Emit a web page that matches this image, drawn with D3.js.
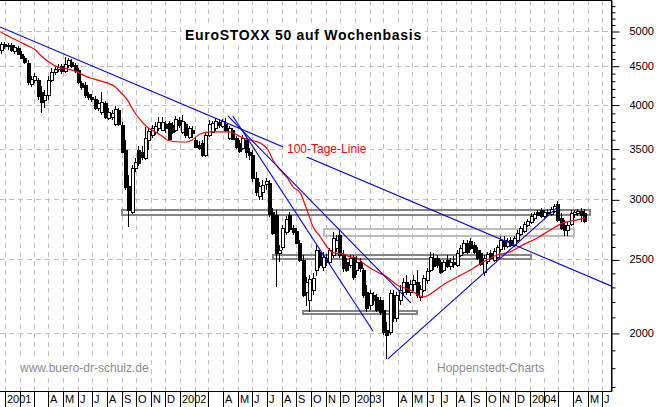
<!DOCTYPE html>
<html>
<head>
<meta charset="utf-8">
<script src="https://cdn.jsdelivr.net/npm/d3@7"></script>
<style>
  body { margin: 0; background: #fff; }
  svg { display: block; font-family: Arial, "Liberation Sans", sans-serif; }
</style>
</head>
<body>
<svg id="chart" width="659" height="407"></svg>
<script>
// Weekly candles, the first one is the week starting Monday 2000-12-25
const firstWeek = new Date(2000, 11, 25);

const opens = [
    4720,4805,4780,4790,4705,4750,4665,4605,4540,4260,
    4310,4310,4155,4055,4120,4310,4415,4455,4495,4430,
    4510,4550,4510,4440,4270,4245,4130,4095,4070,3960,
    3910,4020,3840,3850,3770,3935,3760,3485,3125,2890,
    3300,3485,3465,3400,3590,3650,3680,3725,3705,3770,
    3785,3760,3705,3815,3680,3770,3625,3705,3590,3540,
    3560,3435,3650,3680,3725,3795,3750,3770,3615,3705,
    3615,3560,3505,3590,3465,3435,3200,3030,3070,3145,
    3155,2890,2860,2550,2595,2720,2860,2750,2725,2630,
    2495,2265,2210,2280,2420,2560,2445,2510,2480,2535,
    2590,2695,2535,2480,2460,2510,2420,2480,2420,2265,
    2180,2245,2230,2210,2145,2020,2005,2245,2095,2210,
    2265,2335,2265,2320,2335,2230,2280,2350,2420,2510,
    2510,2480,2420,2495,2450,2480,2460,2535,2560,2630,
    2645,2615,2575,2550,2405,2490,2550,2495,2520,2580,
    2650,2605,2650,2615,2650,2700,2725,2775,2800,2835,
    2890,2905,2855,2880,2870,2895,2960,2835,2775,2735,
    2785,2870,2880,2895,2880
];
const highs = [
    4835,4835,4820,4820,4790,4780,4705,4635,4580,4360,
    4400,4335,4230,4180,4360,4470,4495,4525,4525,4620,
    4605,4595,4540,4470,4295,4285,4155,4130,4105,4055,
    4155,4045,3960,3935,3985,3960,3795,3590,3230,3330,
    3400,3530,3530,3735,3725,3760,3795,3850,3850,3805,
    3805,3795,3865,3850,3875,3795,3750,3750,3625,3580,
    3590,3680,3815,3805,3840,3830,3830,3840,3750,3725,
    3635,3590,3650,3615,3505,3485,3260,3165,3180,3200,
    3180,2925,2905,2615,2775,2855,2890,2775,2750,2650,
    2535,2370,2385,2400,2615,2575,2560,2540,2590,2720,
    2695,2735,2575,2510,2535,2535,2525,2510,2435,2315,
    2280,2265,2250,2230,2210,2070,2280,2280,2265,2315,
    2365,2385,2350,2385,2420,2315,2385,2435,2560,2550,
    2535,2495,2495,2535,2510,2525,2575,2615,2650,2650,
    2670,2635,2595,2575,2535,2560,2575,2590,2615,2685,
    2685,2670,2675,2685,2735,2770,2800,2825,2880,2890,
    2905,2925,2905,2915,2930,2960,2985,2880,2820,2800,
    2905,2905,2915,2925,2915
];
const lows = [
    4665,4735,4720,4690,4665,4650,4595,4525,4245,4220,
    4270,4055,3895,3960,4055,4285,4375,4415,4390,4400,
    4470,4470,4400,4260,4180,4080,4055,4030,3935,3920,
    3875,3830,3815,3815,3750,3750,3455,3085,2760,2870,
    3260,3320,3380,3380,3485,3615,3650,3690,3690,3670,
    3580,3660,3680,3725,3660,3615,3605,3615,3505,3485,
    3410,3410,3625,3670,3690,3725,3725,3680,3590,3590,
    3495,3455,3485,3400,3380,3165,3030,2995,2995,3085,
    2845,2695,2300,2480,2575,2695,2720,2695,2620,2480,
    2230,2170,2130,2245,2375,2435,2415,2450,2465,2510,
    2560,2510,2405,2405,2435,2350,2385,2405,2225,2130,
    2145,2180,2130,2115,1990,1850,1990,2070,2070,2180,
    2240,2245,2240,2270,2225,2205,2265,2320,2405,2420,
    2435,2390,2405,2435,2420,2435,2445,2520,2540,2540,
    2575,2540,2495,2450,2375,2465,2495,2480,2505,2560,
    2575,2590,2595,2595,2635,2685,2710,2760,2785,2810,
    2855,2835,2835,2855,2855,2880,2800,2735,2685,2685,
    2770,2835,2855,2800,2795
];
const closes = [
    4805,4780,4790,4720,4765,4665,4605,4550,4285,4320,
    4360,4105,4030,4120,4310,4415,4455,4485,4430,4525,
    4580,4495,4440,4285,4220,4120,4095,4070,3960,4020,
    4030,3850,3910,3900,3945,3770,3465,3115,2905,3300,
    3360,3350,3410,3615,3690,3725,3750,3795,3795,3725,
    3605,3680,3830,3760,3805,3650,3725,3670,3515,3505,
    3435,3650,3770,3785,3805,3760,3805,3705,3725,3605,
    3515,3475,3615,3465,3435,3200,3070,3125,3135,3175,
    2870,2710,2550,2575,2750,2825,2745,2720,2630,2495,
    2245,2335,2355,2365,2575,2460,2520,2480,2575,2670,
    2650,2535,2435,2420,2510,2370,2480,2435,2245,2160,
    2260,2210,2145,2130,2005,1990,2260,2095,2245,2280,
    2335,2265,2320,2350,2245,2285,2365,2415,2520,2450,
    2460,2405,2480,2450,2480,2465,2550,2590,2630,2560,
    2590,2560,2510,2465,2510,2540,2510,2565,2595,2650,
    2605,2645,2615,2670,2710,2750,2785,2810,2855,2870,
    2860,2855,2890,2890,2915,2940,2820,2750,2735,2775,
    2880,2890,2895,2860,2810
];

// 100-Tage-Linie
const maDates = [
    "2000-12-22","2001-01-11","2001-02-01","2001-02-22","2001-03-05","2001-03-15",
    "2001-04-05","2001-04-20","2001-05-10","2001-05-31","2001-06-21","2001-07-04",
    "2001-07-18","2001-08-02","2001-08-19","2001-08-29","2001-09-13","2001-09-25",
    "2001-10-10","2001-10-24","2001-11-14","2001-11-27","2001-12-05","2002-01-01",
    "2002-01-16","2002-01-26","2002-02-12","2002-03-05","2002-04-16","2002-04-30",
    "2002-05-13","2002-05-27","2002-06-17","2002-07-04","2002-07-14","2002-07-29",
    "2002-08-13","2002-08-25","2002-09-09","2002-09-23","2002-10-06","2002-10-21",
    "2002-11-04","2002-11-17","2002-12-08","2002-12-22","2003-01-06","2003-01-18",
    "2003-02-02","2003-02-17","2003-03-09","2003-03-30","2003-04-26","2003-05-24",
    "2003-06-14","2003-07-04","2003-08-03","2003-08-30","2003-09-26","2003-10-25",
    "2003-11-21","2003-12-18","2004-01-17","2004-02-13","2004-03-11","2004-04-09",
    "2004-04-26"
];
const maValues = [
    4985,4910,4836,4763,4720,4649,
    4538,4484,4457,4416,4350,4324,
    4297,4271,4219,4156,4056,3934,
    3817,3737,3670,3625,3592,3570,
    3570,3592,3658,3681,3681,3648,
    3614,3592,3560,3485,3381,3280,
    3201,3115,3059,2905,2759,2677,
    2597,2550,2542,2519,2511,2473,
    2436,2407,2370,2314,2279,2231,
    2265,2314,2370,2421,2481,2534,
    2558,2613,2668,2734,2793,2818,
    2836
];

// trend lines: start date, start value, end date, end value
const trendLines = [
    ["2000-12-21", 5061, "2004-06-19", 2307],
    ["2002-04-11", 3864, "2003-04-28", 2191],
    ["2002-04-21", 3864, "2003-02-08", 2012],
    ["2003-03-11", 1849, "2004-02-29", 2932]
];

// horizontal zones: from, to, low, high
const zones = [
    ["2001-09-01", "2004-05-06", 2862, 2905],
    ["2002-10-29", "2004-04-03", 2688, 2738],
    ["2002-07-14", "2004-01-04", 2500, 2534],
    ["2002-09-14", "2003-05-11", 2120, 2140]
];

const yTicks = [2000, 2500, 3000, 3500, 4000, 4500, 5000];
const monthLetters = ["J", "F", "M", "A", "M", "J", "J", "A", "S", "O", "N", "D"];

const parse = d3.timeParse("%Y-%m-%d");

const svg = d3.select("#chart");
const plotRight = 611, plotBottom = 391;

const x = d3.scaleTime()
    .domain([new Date(2000, 11, 21), new Date(2004, 5, 19)])
    .range([0, plotRight]);
const y = d3.scaleLog()
    .domain([1677, 5493])
    .range([plotBottom, 0]);

svg.append("rect").attr("width", 659).attr("height", 407).attr("fill", "#fff");

svg.append("defs").append("clipPath").attr("id", "plotClip")
    .append("rect").attr("x", 0).attr("y", 0).attr("width", plotRight).attr("height", plotBottom);

const plot = svg.append("g").attr("clip-path", "url(#plotClip)");

// grid
const months = d3.timeMonth.range(new Date(2001, 0, 1), new Date(2004, 6, 1));
plot.append("g").selectAll("line")
    .data(months)
    .enter().append("line")
    .attr("x1", d => Math.round(x(d)) + 0.5)
    .attr("x2", d => Math.round(x(d)) + 0.5)
    .attr("y1", 0).attr("y2", plotBottom)
    .attr("stroke", "#c0c0c0")
    .attr("stroke-dasharray", "5,4");

plot.append("g").selectAll("line")
    .data(yTicks)
    .enter().append("line")
    .attr("x1", 0).attr("x2", plotRight)
    .attr("y1", d => Math.round(y(d)) + 0.5)
    .attr("y2", d => Math.round(y(d)) + 0.5)
    .attr("stroke", "#c0c0c0")
    .attr("stroke-dasharray", "5,4");

// zones
const zoneColor = ["#848484", "#bcbcbc", "#848484", "#848484"];
plot.append("g").selectAll("rect")
    .data(zones)
    .enter().append("rect")
    .attr("x", d => Math.round(x(parse(d[0]))))
    .attr("y", d => Math.round(y(d[3])))
    .attr("width", d => Math.round(x(parse(d[1]))) - Math.round(x(parse(d[0]))))
    .attr("height", d => Math.max(3, Math.round(y(d[2])) - Math.round(y(d[3]))))
    .attr("fill", "none")
    .attr("stroke", (d, i) => zoneColor[i])
    .attr("stroke-width", 2)
    .attr("shape-rendering", "crispEdges");

// candles
const candles = opens.map((o, i) => ({
    date: d3.timeMonday.offset(firstWeek, i),
    open: o, high: highs[i], low: lows[i], close: closes[i]
}));

const cg = plot.append("g").selectAll("g")
    .data(candles)
    .enter().append("g");

cg.append("line")
    .attr("x1", d => Math.round(x(d.date)) - 0.5)
    .attr("x2", d => Math.round(x(d.date)) - 0.5)
    .attr("y1", d => Math.round(y(d.high)))
    .attr("y2", d => Math.round(y(d.low)))
    .attr("stroke", "#000")
    .attr("shape-rendering", "crispEdges");

cg.append("rect")
    .attr("x", d => Math.round(x(d.date)) - 1.5)
    .attr("y", d => Math.round(y(Math.max(d.open, d.close))) + 0.5)
    .attr("width", 3)
    .attr("height", d => Math.max(1, Math.round(y(Math.min(d.open, d.close))) - Math.round(y(Math.max(d.open, d.close)))))
    .attr("fill", d => d.close < d.open ? "#000" : "#fff")
    .attr("stroke", "#000")
    .attr("shape-rendering", "crispEdges");

// moving average
const line = d3.line()
    .x(d => x(d[0]))
    .y(d => y(d[1]))
    .curve(d3.curveMonotoneX);

plot.append("path")
    .datum(maDates.map((d, i) => [parse(d), maValues[i]]))
    .attr("d", line)
    .attr("fill", "none")
    .attr("stroke", "#ff0000")
    .attr("stroke-width", 1.2);

// trend lines
plot.append("g").selectAll("line")
    .data(trendLines)
    .enter().append("line")
    .attr("x1", d => x(parse(d[0])))
    .attr("y1", d => y(d[1]))
    .attr("x2", d => x(parse(d[2])))
    .attr("y2", d => y(d[3]))
    .attr("stroke", "#0000ff")
    .attr("stroke-width", 1.1);

// labels with white background
function boxedText(g, txt, tx, ty, opts) {
    const t = g.append("text")
        .attr("x", tx).attr("y", ty)
        .attr("fill", opts.color)
        .style("font-size", opts.size + "px")
        .style("font-weight", opts.bold ? "bold" : "normal")
        .style("letter-spacing", (opts.spacing || 0) + "px")
        .text(txt);
    const bb = t.node().getBBox();
    g.insert("rect", "text")
        .attr("x", bb.x - opts.pad).attr("y", bb.y - 1)
        .attr("width", bb.width + 2 * opts.pad).attr("height", bb.height + 2)
        .attr("fill", "#fff");
}

const labels = plot.append("g");
boxedText(labels.append("g"), "100-Tage-Linie", 287, 153, {color: "#ff0000", size: 12, pad: 4});
boxedText(labels.append("g"), "EuroSTOXX 50 auf Wochenbasis", 185, 40, {color: "#000", size: 14, bold: true, spacing: 0.7, pad: 3});
boxedText(labels.append("g"), "www.buero-dr-schulz.de", 20, 372, {color: "#8c8c8c", size: 12, pad: 2});
boxedText(labels.append("g"), "Hoppenstedt-Charts", 437, 372, {color: "#8c8c8c", size: 12, pad: 2});

// frame
svg.append("line").attr("x1", 0).attr("x2", plotRight + 1).attr("y1", 0.5).attr("y2", 0.5).attr("stroke", "#000");
svg.append("line").attr("x1", 0).attr("x2", plotRight + 1).attr("y1", plotBottom + 0.5).attr("y2", plotBottom + 0.5).attr("stroke", "#000");

// right axis: minor ticks every 100, major ticks with labels
const minorTicks = d3.range(1700, 5500, 100).filter(v => !yTicks.includes(v));
svg.append("g")
    .attr("transform", `translate(${plotRight + 0.5},0)`)
    .call(d3.axisRight(y).tickValues(minorTicks).tickSize(4).tickSizeOuter(0).tickFormat(""))
    .call(g => g.selectAll(".tick line").attr("transform", "translate(0,0.5)"));

const yAxis = svg.append("g")
    .attr("transform", `translate(${plotRight + 0.5},0)`)
    .call(d3.axisRight(y).tickValues(yTicks).tickSize(8).tickSizeOuter(0).tickPadding(10).tickFormat(d3.format("d")));
yAxis.selectAll(".tick line").attr("transform", "translate(0,0.5)");
yAxis.selectAll("text").style("font-size", "11px").style("font-family", "Arial, 'Liberation Sans', sans-serif");
yAxis.select(".domain").attr("d", `M0,0V${plotBottom + 1}`);

// bottom month labels
const xAxis = svg.append("g");
months.forEach(m => {
    const sx = Math.round(x(m)) + 0.5;
    xAxis.append("line")
        .attr("x1", sx).attr("x2", sx)
        .attr("y1", plotBottom).attr("y2", 407)
        .attr("stroke", "#000");
    const mi = m.getMonth();
    let lbl = null;
    if (mi === 0) lbl = String(m.getFullYear());
    else if (mi > 2) lbl = monthLetters[mi];
    if (lbl) {
        xAxis.append("text")
            .attr("x", sx + 1.5)
            .attr("y", 403)
            .style("font-size", "11px")
            .text(lbl);
    }
});
</script>
</body>
</html>
